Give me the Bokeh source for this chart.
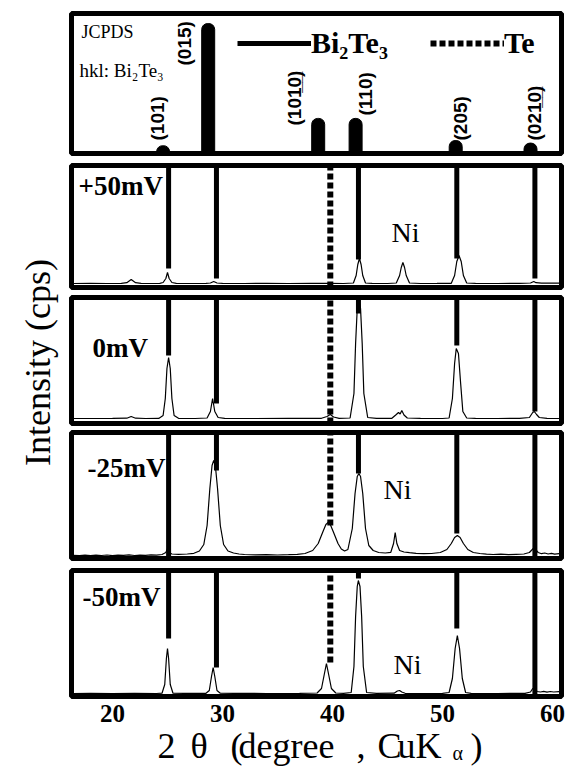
import math
from bokeh.plotting import figure
from bokeh.models import Range1d, Label, Legend, LegendItem
from bokeh.core.properties import value
from bokeh.embed import file_html
from bokeh.resources import INLINE

# ---------------- data ----------------
jcpds_hkl = ["(101)", "(015)", "(101\u03320\u0332)", "(110)", "(205)", "(021\u03320\u0332)"]
jcpds_2theta = [24.6, 28.7, 38.7, 42.1, 51.2, 58.0]
jcpds_intensity = [6, 100, 27, 27, 10, 8]

bi2te3_2theta = [25.1, 29.45, 42.36, 51.3, 58.4]
te_2theta = [39.8]

panels = ["+50mV", "0mV", "-25mV", "-50mV"]

# where the guide lines (Bi2Te3 / Te) stop inside each pattern (counts)
bi2te3_guide_end = {
    "+50mV": [190, 90, 280, 290, 90],
    "0mV": [680, 200, 1100, 780, 120],
    "-25mV": [0, 880, 850, 250, 0],
    "-50mV": [580, 290, 1180, 680, 0],
}
te_guide_end = {"+50mV": [0], "0mV": [0], "-25mV": [330], "-50mV": [340]}

p50_2theta = [16.4, 18.0, 19.5, 20.8, 21.3, 21.7, 22.1, 22.6, 23.5, 24.3,
              24.6, 24.85, 25.0, 25.15, 25.4, 25.8, 27.0, 28.5, 28.9, 29.2,
              29.5, 30.0, 32.0, 34.0, 36.0, 38.0, 39.8, 41.0, 41.9, 42.15,
              42.3, 42.45, 42.6, 42.75, 43.0, 43.6, 45.0, 45.8, 46.1, 46.25,
              46.4, 46.55, 46.7, 47.0, 48.0, 49.5, 50.8, 51.1, 51.3, 51.5,
              51.7, 51.9, 52.2, 53.0, 55.0, 57.0, 58.0, 58.3, 58.5, 59.0,
              59.5, 60.0, 60.6]
p50_counts = [40, 41, 40, 42, 48, 80, 48, 41, 40, 41,
              50, 90, 150, 90, 50, 41, 40, 41, 45, 60,
              45, 41, 40, 41, 40, 41, 42, 40, 45, 120,
              230, 290, 230, 120, 45, 41, 40, 45, 120, 200,
              250, 200, 120, 45, 40, 41, 42, 120, 260, 320,
              260, 120, 45, 41, 40, 41, 45, 60, 48, 44,
              45, 43, 44]

p0_2theta = [16.4, 18.0, 20.0, 21.3, 21.7, 22.1, 23.0, 24.2, 24.6, 24.8,
             24.95, 25.1, 25.25, 25.4, 25.6, 26.0, 27.5, 28.6, 28.9, 29.1,
             29.3, 29.6, 30.2, 33.0, 36.0, 39.0, 39.5, 39.8, 40.1, 40.6,
             41.6, 41.95, 42.1, 42.25, 42.4, 42.55, 42.7, 42.85, 43.2, 44.0,
             45.4, 45.8, 46.0, 46.15, 46.3, 46.5, 46.8, 48.0, 50.0, 50.6,
             50.9, 51.1, 51.25, 51.45, 51.65, 51.85, 52.2, 53.0, 55.0, 57.0,
             57.9, 58.2, 58.35, 58.55, 58.8, 59.5, 60.6]
p0_counts = [50, 50, 51, 53, 70, 53, 50, 51, 80, 250,
             550, 660, 550, 250, 80, 52, 50, 55, 120, 250,
             120, 60, 51, 50, 51, 52, 70, 90, 65, 52,
             55, 300, 800, 1150, 1240, 1150, 800, 300, 60, 51,
             52, 90, 110, 95, 130, 85, 55, 51, 50, 55,
             250, 600, 750, 700, 400, 120, 55, 51, 50, 51,
             60, 110, 120, 90, 60, 52, 50]

m25_2theta = [16.4, 17.0, 17.5, 18.0, 18.5, 19.0, 19.5, 20.0, 20.5, 21.0,
              21.5, 22.0, 22.5, 23.0, 23.5, 24.0, 24.5, 24.85, 25.0, 25.15,
              25.4, 26.0, 26.8, 27.4, 27.9, 28.3, 28.6, 28.85, 29.05, 29.2,
              29.35, 29.55, 29.8, 30.1, 30.5, 31.0, 31.5, 32.0, 33.0, 34.0,
              35.0, 36.0, 36.8, 37.5, 38.2, 38.7, 39.1, 39.4, 39.6, 39.8,
              40.1, 40.5, 40.8, 41.1, 41.4, 41.8, 42.05, 42.25, 42.4, 42.55,
              42.75, 43.0, 43.3, 43.7, 44.2, 44.8, 45.3, 45.55, 45.7, 45.85,
              46.1, 46.5, 47.0, 47.6, 48.3, 49.0, 49.8, 50.4, 50.8, 51.1,
              51.35, 51.6, 51.9, 52.3, 52.8, 53.4, 54.0, 54.6, 55.3, 56.0,
              56.7, 57.4, 57.9, 58.25, 58.45, 58.7, 59.0, 59.3, 59.6, 59.9,
              60.2, 60.6]
m25_counts = [32, 28, 34, 29, 33, 30, 35, 29, 33, 31,
              36, 30, 34, 32, 36, 33, 40, 60, 100, 60,
              45, 42, 45, 52, 75, 140, 330, 700, 930, 980,
              930, 700, 330, 140, 75, 55, 45, 40, 36, 38,
              35, 38, 42, 50, 80, 150, 260, 340, 360, 340,
              260, 150, 95, 75, 90, 300, 650, 820, 850, 820,
              650, 300, 130, 80, 60, 55, 62, 150, 260, 150,
              80, 65, 58, 52, 48, 50, 60, 90, 150, 210,
              230, 210, 150, 90, 60, 50, 44, 40, 44, 38,
              42, 45, 60, 100, 90, 60, 48, 55, 45, 52,
              44, 48]

m50_2theta = [16.4, 18.0, 20.0, 22.0, 24.0, 24.5, 24.75, 24.9, 25.0, 25.1,
              25.25, 25.5, 26.5, 28.5, 28.8, 29.0, 29.15, 29.3, 29.5, 29.8,
              31.0, 34.0, 37.0, 38.6, 39.0, 39.25, 39.45, 39.65, 39.9, 40.3,
              41.0, 41.7, 41.95, 42.1, 42.25, 42.35, 42.5, 42.65, 42.8, 43.1,
              44.0, 45.6, 45.9, 46.1, 46.3, 46.6, 48.0, 50.0, 50.6, 50.9,
              51.15, 51.35, 51.55, 51.8, 52.1, 52.6, 55.0, 57.5, 58.0, 58.2,
              58.4, 58.6, 58.9, 59.2, 59.5, 59.8, 60.1, 60.6]
m50_counts = [30, 31, 30, 31, 30, 33, 120, 380, 480, 380,
              120, 33, 31, 32, 60, 200, 290, 200, 60, 33,
              31, 30, 31, 35, 80, 220, 330, 220, 80, 35,
              32, 40, 300, 800, 1100, 1160, 1100, 800, 300, 40,
              31, 33, 55, 60, 45, 32, 30, 31, 40, 180,
              480, 610, 480, 180, 40, 31, 30, 31, 45, 80,
              70, 50, 45, 52, 44, 50, 45, 48]

patterns = {
    "+50mV": (p50_2theta, p50_counts),
    "0mV": (p0_2theta, p0_counts),
    "-25mV": (m25_2theta, m25_counts),
    "-50mV": (m50_2theta, m50_counts),
}

x_ticks = [20, 30, 40, 50, 60]
x_tick_labels = ["20", "30", "40", "50", "60"]

# ---------------- layout (page pixels; the canvas fills the window) ----------------
W, H = 566, 767
X_AT_20, PX_PER_DEG = 112, 11.0
BOX_L_PX, BOX_R_PX = 71, 561
# panel: (top border, bottom border, px per unit)
bands = {
    "jcpds": (13, 153, 1.3),
    "+50mV": (165, 287, 0.1),
    "0mV": (297, 423, 0.1),
    "-25mV": (432, 558, 0.1),
    "-50mV": (570, 696, 0.1),
}
TICK_LABEL_Y = 713


def deg(px):
    return 20 + (px - X_AT_20) / PX_PER_DEG


p = figure(width=W, height=H, output_backend="svg", toolbar_location=None,
           x_range=Range1d(deg(0), deg(W)), y_range=Range1d(0, 1),
           x_axis_location=None, y_axis_location=None,
           min_border_left=0, min_border_right=0, min_border_top=0, min_border_bottom=0)
p.outline_line_color = None
p.xgrid.visible = False
p.ygrid.visible = False
p.background_fill_color = "white"
p.border_fill_color = "white"

p.extra_y_ranges = {k: Range1d(-(H - b) / s, b / s) for k, (t, b, s) in bands.items()}

# JCPDS sticks
bars = p.vbar(x=jcpds_2theta, top=jcpds_intensity, bottom=0, width=13 / PX_PER_DEG,
              y_range_name="jcpds", fill_color="black", line_color="black")
try:
    bars.glyph.border_radius = (6, 6, 0, 0)
except Exception:
    pass

legend_renderers = {}
for name in panels:
    t, b, s = bands[name]
    top = (b - t) / s
    xs, ys = patterns[name]
    p.line(xs, ys, y_range_name=name, line_color="black", line_width=1.2)
    r_bt = p.segment(x0=bi2te3_2theta, y0=bi2te3_guide_end[name],
                     x1=bi2te3_2theta, y1=[top] * len(bi2te3_2theta),
                     y_range_name=name, line_color="black", line_width=5)
    r_te = p.segment(x0=te_2theta, y0=te_guide_end[name],
                     x1=te_2theta, y1=[top] * len(te_2theta),
                     y_range_name=name, line_color="black", line_width=6,
                     line_dash="6 3")
    if name == "+50mV":
        legend_renderers = {"bt": r_bt, "te": r_te}

# panel frames
for name, (t, b, s) in bands.items():
    p.quad(left=[deg(BOX_L_PX)], right=[deg(BOX_R_PX)], bottom=[0], top=[(b - t) / s],
           y_range_name=name, fill_color=None, line_color="black", line_width=5)

# x tick labels, placed through the x scale
p.text(x=x_ticks, y=[-(TICK_LABEL_Y - bands["-50mV"][1]) / bands["-50mV"][2]] * len(x_ticks),
       text=x_tick_labels, y_range_name="-50mV",
       text_font=value("Liberation Serif"), text_font_style="bold",
       text_font_size="25px", text_align="center", text_baseline="middle",
       text_color="black")


def put(text, px, py, size, font="Liberation Serif", style="normal",
        align="left", baseline="middle", angle=0.0):
    p.add_layout(Label(x=px, y=H - py, x_units="screen", y_units="screen",
                       text=text, text_font=font, text_font_size=f"{size}px",
                       text_font_style=style, text_align=align, text_baseline=baseline,
                       angle=angle, text_color="black"))


# top panel texts
put("JCPDS", 81, 31, 18)
put("hkl: Bi\u2082Te\u2083", 79, 70, 19)
hkl_pos = [(157, 140), (184, 65), (294, 125), (365, 115), (460, 140), (534, 140)]
for lab, (hx, hy) in zip(jcpds_hkl, hkl_pos):
    put(lab, hx, hy, 19, font="Liberation Sans", style="bold", angle=math.pi / 2)

legend = Legend(items=[LegendItem(label="Bi\u2082Te\u2083", renderers=[legend_renderers["bt"]]),
                       LegendItem(label="Te", renderers=[legend_renderers["te"]])],
                orientation="horizontal", location=(237, H - 60),
                glyph_width=74, glyph_height=20, label_standoff=0, spacing=42,
                padding=0, margin=0, border_line_color=None, background_fill_alpha=0,
                label_text_font="Liberation Serif", label_text_font_style="bold",
                label_text_font_size="30px", label_text_color="black")
p.add_layout(legend)

# panel labels
put("+50mV", 78, 185, 27, style="bold")
put("0mV", 92, 347, 27, style="bold")
put("-25mV", 87, 467, 27, style="bold")
put("-50mV", 82, 596, 27, style="bold")
put("Ni", 405, 232, 28, align="center")
put("Ni", 397, 489, 28, align="center")
put("Ni", 407, 664, 28, align="center")

# axis titles
put("Intensity (cps)", 37, 362, 36, align="center", angle=math.pi / 2)
for txt, tx in [("2", 157), ("\u03b8", 190), ("(", 230), ("degree", 238), (",", 356),
                ("C", 377), ("uK", 397), (")", 470)]:
    put(txt, tx, 745, 36)
put("\u03b1", 452, 752, 20)

open("out.html", "w").write(file_html(p, INLINE))
